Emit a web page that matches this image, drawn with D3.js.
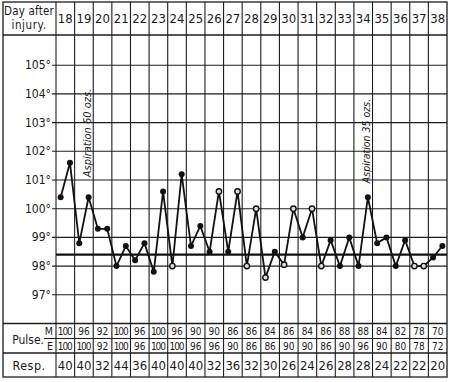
<!DOCTYPE html>
<html><head><meta charset="utf-8">
<script src="https://cdn.jsdelivr.net/npm/d3@7"></script>
<style>
html,body{margin:0;padding:0;background:#fff;}
svg{display:block;}
text{font-family:"DejaVu Sans Condensed","DejaVu Sans",sans-serif;font-stretch:condensed;fill:#1a1a1a;}
</style></head>
<body>
<svg id="c" width="450" height="382"></svg>
<script>
// ---- data ----
const days = [18,19,20,21,22,23,24,25,26,27,28,29,30,31,32,33,34,35,36,37,38];
// temperature, morning & evening for each day (°F)
const temps = [100.4,101.6, 98.8,100.4, 99.3,99.3, 98.0,98.7, 98.2,98.8, 97.8,100.6,
               98.0,101.2, 98.7,99.4, 98.5,100.6, 98.5,100.6, 98.0,100.0, 97.6,98.5,
               98.05,100.0, 99.0,100.0, 98.0,98.9, 98.0,99.0, 98.0,100.4, 98.8,99.0,
               98.0,98.9, 98.0,98.0, 98.3,98.7];
const hollow = [0,0,0,0,0,0,0,0,0,0,0,0, 1,0,0,0,0,1,0,1,1,1,1,0,1,1,0,1,1,0,0,0,0,0,0,0,0,0,1,1,0,0];
const pulseM = [100,96,92,100,96,100,96,90,90,86,86,84,86,84,86,88,88,84,82,78,70];
const pulseE = [100,100,92,100,96,100,100,96,96,90,86,86,90,90,86,90,96,90,80,78,72];
const resp   = [40,40,32,44,36,40,40,40,32,36,32,30,26,24,26,28,28,24,22,22,20];
const degTicks = [97,98,99,100,101,102,103,104,105];
const normalTemp = 98.4;
const notes = [{day:19, half:1, text:"Aspiration 60 ozs."},{day:34, half:1, text:"Aspiration 35 ozs."}];

// ---- layout ----
const svg = d3.select("#c");
const L = 3, C0 = 56, R = 447, TOP = 2, HB = 35, BOT = 377;
const x = d3.scaleBand().domain(days).range([C0, R]).padding(0);
const bw = x.bandwidth();
const y = d3.scaleLinear().domain([96,106]).range([323.5, 36.5]);
const rowM = [y(96), 338.5], rowE = [338.5, 353], rowR = [353, BOT];
const ink = "#1c1c1c";

const g = svg.append("g");
// outer border
g.append("rect").attr("x",L).attr("y",TOP).attr("width",R-L).attr("height",BOT-TOP)
  .attr("fill","none").attr("stroke",ink).attr("stroke-width",1.3);
// vertical column lines
g.selectAll("line.v").data(days).join("line")
  .attr("x1",d=>x(d)).attr("x2",d=>x(d)).attr("y1",TOP).attr("y2",BOT)
  .attr("stroke",ink).attr("stroke-width",1.1);
// header bottom
g.append("line").attr("x1",L).attr("x2",R).attr("y1",HB).attr("y2",HB).attr("stroke",ink).attr("stroke-width",1.3);
// degree lines
g.selectAll("line.h").data(degTicks).join("line")
  .attr("x1",C0-4).attr("x2",R).attr("y1",d=>y(d)).attr("y2",d=>y(d))
  .attr("stroke",ink).attr("stroke-width",1.1);
// table lines
g.append("line").attr("x1",L).attr("x2",R).attr("y1",rowM[0]).attr("y2",rowM[0]).attr("stroke",ink).attr("stroke-width",1.3);
g.append("line").attr("x1",44).attr("x2",R).attr("y1",rowE[0]).attr("y2",rowE[0]).attr("stroke",ink).attr("stroke-width",1.1);
g.append("line").attr("x1",L).attr("x2",R).attr("y1",rowR[0]).attr("y2",rowR[0]).attr("stroke",ink).attr("stroke-width",1.3);
// normal line
g.append("line").attr("x1",C0).attr("x2",R).attr("y1",y(normalTemp)).attr("y2",y(normalTemp))
  .attr("stroke","#111").attr("stroke-width",2.2);

// header text
g.append("text").attr("x",29).attr("y",15).attr("text-anchor","middle").attr("font-size",11.5).attr("letter-spacing",0.2).text("Day after");
g.append("text").attr("x",29).attr("y",29).attr("text-anchor","middle").attr("font-size",11.5).attr("letter-spacing",0.6).text("injury.");
g.selectAll("text.day").data(days).join("text")
  .attr("x",d=>x(d)+bw/2).attr("y",23).attr("text-anchor","middle").attr("font-size",13).text(d=>d);

// degree labels
g.selectAll("text.deg").data(degTicks).join("text")
  .attr("x",51).attr("y",d=>y(d)+4).attr("text-anchor","end").attr("font-size",12).text(d=>d+"°");

// table labels
g.append("text").attr("x",44).attr("y",344).attr("text-anchor","end").attr("font-size",12).text("Pulse.");
g.append("text").attr("x",53).attr("y",335).attr("text-anchor","end").attr("font-size",10.5).text("M");
g.append("text").attr("x",53).attr("y",350).attr("text-anchor","end").attr("font-size",10.5).text("E");
g.append("text").attr("x",29).attr("y",370).attr("text-anchor","middle").attr("font-size",12.5).attr("letter-spacing",0.5).text("Resp.");
g.selectAll("text.pm").data(pulseM).join("text")
  .attr("x",(d,i)=>x(days[i])+bw/2).attr("y",rowM[1]-3.5).attr("text-anchor","middle").attr("font-size",10).attr("textLength",d=>d>=100?15:null).text(d=>d);
g.selectAll("text.pe").data(pulseE).join("text")
  .attr("x",(d,i)=>x(days[i])+bw/2).attr("y",rowE[1]-3).attr("text-anchor","middle").attr("font-size",10).attr("textLength",d=>d>=100?15:null).text(d=>d);
g.selectAll("text.rs").data(resp).join("text")
  .attr("x",(d,i)=>x(days[i])+bw/2).attr("y",rowR[1]-7).attr("text-anchor","middle").attr("font-size",13).text(d=>d);

// temperature line
const px = i => x(days[Math.floor(i/2)]) + bw*(i%2 ? 0.75 : 0.25);
const line = d3.line().x((d,i)=>px(i)).y(d=>y(d));
g.append("path").datum(temps).attr("d",line).attr("fill","none").attr("stroke","#111").attr("stroke-width",1.8).attr("stroke-linejoin","miter");
g.selectAll("circle.pt").data(temps).join("circle")
  .attr("cx",(d,i)=>px(i)).attr("cy",d=>y(d)).attr("r",(d,i)=>hollow[i]?2.7:3)
  .attr("fill",(d,i)=>hollow[i]?"#ddd":"#111").attr("stroke","#111").attr("stroke-width",(d,i)=>hollow[i]?1.4:0);

// annotations
notes.forEach((n,k)=>{
  const i = days.indexOf(n.day)*2 + n.half;
  const tx = px(i) + 2;
  const ty = y(temps[i]) - (k ? 14 : 20);
  g.append("text").attr("transform",`translate(${tx},${ty}) rotate(-90)`)
    .attr("font-size",k ? 10.5 : 11).attr("font-style","italic").text(n.text);
});
</script>
</body></html>
